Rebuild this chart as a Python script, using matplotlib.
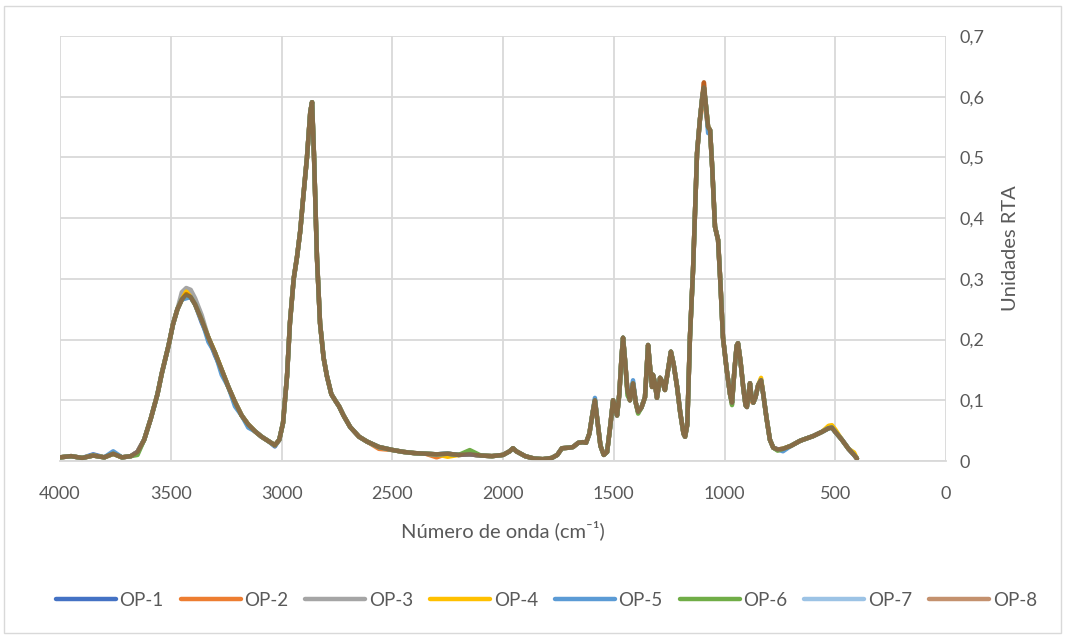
import matplotlib
matplotlib.use("Agg")
import matplotlib.pyplot as plt
from matplotlib.patches import Rectangle
from matplotlib.ticker import FuncFormatter, MultipleLocator

# FTIR spectra of samples OP-1 .. OP-8 (absorbance, arbitrary units)
wavenumber = [
    4000, 3950, 3900, 3850, 3800, 3760, 3720, 3680, 3650, 3620,
    3590, 3560, 3540, 3510, 3490, 3470, 3450, 3430, 3410, 3390,
    3360, 3330, 3300, 3270, 3240, 3210, 3180, 3150, 3120, 3090,
    3060, 3030, 3010, 2993, 2975, 2962, 2945, 2930, 2915, 2903,
    2885, 2870, 2862, 2853, 2840, 2826, 2810, 2795, 2775, 2758,
    2740, 2720, 2690, 2650, 2614, 2560, 2497, 2450, 2400, 2350,
    2300, 2250, 2200, 2150, 2100, 2050, 2000, 1970, 1955, 1940,
    1900, 1860, 1820, 1780, 1755, 1734, 1700, 1684, 1660, 1640,
    1625, 1610, 1595, 1585, 1575, 1560, 1545, 1530, 1515, 1503,
    1493, 1485, 1475, 1465, 1458, 1450, 1438, 1427, 1413, 1400,
    1390, 1375, 1359, 1350, 1345, 1335, 1327, 1323, 1315, 1305,
    1291, 1280, 1269, 1255, 1242, 1230, 1214, 1200, 1185, 1178,
    1168, 1156, 1142, 1124, 1111, 1100, 1093, 1085, 1074, 1065,
    1055, 1043, 1029, 1018, 1007, 990, 975, 966, 955, 945,
    939, 928, 915, 905, 899, 890, 885, 878, 870, 860,
    848, 835, 825, 810, 795, 780, 760, 736, 700, 660,
    646, 600, 560, 530, 515, 500, 470, 440, 415, 402,
]

absorbance = [
    0.006, 0.008, 0.005, 0.009, 0.006, 0.012, 0.006, 0.008, 0.015, 0.035,
    0.070, 0.110, 0.145, 0.190, 0.225, 0.250, 0.266, 0.273, 0.270, 0.258,
    0.232, 0.203, 0.178, 0.150, 0.122, 0.097, 0.075, 0.060, 0.049, 0.040,
    0.033, 0.026, 0.035, 0.063, 0.140, 0.227, 0.300, 0.336, 0.380, 0.430,
    0.500, 0.575, 0.591, 0.500, 0.336, 0.227, 0.170, 0.140, 0.110, 0.100,
    0.090, 0.075, 0.056, 0.040, 0.032, 0.023, 0.018, 0.015, 0.013, 0.012,
    0.011, 0.012, 0.010, 0.011, 0.009, 0.008, 0.010, 0.016, 0.021, 0.016,
    0.008, 0.004, 0.003, 0.005, 0.010, 0.021, 0.022, 0.023, 0.030, 0.031,
    0.030, 0.045, 0.080, 0.100, 0.070, 0.025, 0.010, 0.015, 0.060, 0.100,
    0.085, 0.075, 0.110, 0.170, 0.203, 0.170, 0.115, 0.100, 0.128, 0.095,
    0.081, 0.088, 0.105, 0.160, 0.191, 0.150, 0.122, 0.142, 0.130, 0.104,
    0.137, 0.130, 0.117, 0.150, 0.180, 0.160, 0.122, 0.080, 0.045, 0.040,
    0.060, 0.204, 0.315, 0.507, 0.562, 0.600, 0.615, 0.590, 0.550, 0.545,
    0.480, 0.386, 0.364, 0.290, 0.204, 0.150, 0.110, 0.096, 0.150, 0.190,
    0.194, 0.165, 0.120, 0.092, 0.089, 0.115, 0.128, 0.105, 0.096, 0.105,
    0.125, 0.133, 0.110, 0.070, 0.035, 0.022, 0.019, 0.020, 0.025, 0.033,
    0.035, 0.041, 0.048, 0.054, 0.055, 0.048, 0.035, 0.020, 0.010, 0.004,
]

# values where a sample departs from the common trace {wavenumber: absorbance}
op1_diff = {3430: 0.270, 3360: 0.228, 3300: 0.174, 3030: 0.024, 3850: 0.011}
op2_diff = {3430: 0.278, 3410: 0.275, 1093: 0.623, 1085: 0.575, 878: 0.098, 2300: 0.006, 2560: 0.020}
op3_diff = {3450: 0.278, 3430: 0.285, 3410: 0.282, 3390: 0.268, 3360: 0.240}
op4_diff = {3430: 0.279, 530: 0.058, 515: 0.059, 500: 0.052, 835: 0.137, 415: 0.014, 2250: 0.007}
op5_diff = {3430: 0.268, 3330: 0.196, 3270: 0.142, 3210: 0.090, 3150: 0.055, 3760: 0.016,
            1585: 0.104, 1413: 0.133, 1074: 0.540, 736: 0.016}
op6_diff = {3650: 0.010, 2150: 0.018, 1438: 0.108, 1390: 0.078, 966: 0.092, 760: 0.017}
op7_diff = {3430: 0.271, 3300: 0.176}
op8_diff = {1093: 0.624, 3430: 0.275}

series_names = ["OP-1", "OP-2", "OP-3", "OP-4", "OP-5", "OP-6", "OP-7", "OP-8"]
series_diffs = [op1_diff, op2_diff, op3_diff, op4_diff, op5_diff, op6_diff, op7_diff, op8_diff]
colors = ["#4472C4", "#ED7D31", "#A5A5A5", "#FFC000", "#5B9BD5", "#70AD47", "#5B9BD5", "#9E480E"]
alphas = [1, 1, 1, 1, 1, 1, 0.6, 0.6]

plt.rcParams['font.family'] = ['Lato', 'DejaVu Sans']
text_color = "#595959"
grid_color = "#D9D9D9"

fig = plt.figure(figsize=(10.65, 6.37), dpi=100)
fig.patches.append(Rectangle((0.004, 0.006), 0.992, 0.984, transform=fig.transFigure,
                             fill=False, edgecolor=grid_color, linewidth=1))
ax = fig.add_axes([60 / 1065, 1 - 461 / 637, 886 / 1065, 425 / 637])

for name, diff, col, a in zip(series_names, series_diffs, colors, alphas):
    y = [diff.get(w, v) for w, v in zip(wavenumber, absorbance)]
    ax.plot(wavenumber, y, color=col, alpha=a, linewidth=3.2, label=name,
            solid_joinstyle="round", solid_capstyle="round")

ax.set_xlim(4000, 0)
ax.set_ylim(0, 0.7)
ax.xaxis.set_major_locator(MultipleLocator(500))
ax.yaxis.set_major_locator(MultipleLocator(0.1))
ax.yaxis.set_major_formatter(FuncFormatter(lambda v, p: ("%.1f" % v).replace(".", ",") if v > 1e-9 else "0"))
ax.yaxis.tick_right()
ax.yaxis.set_label_position("right")

ax.grid(True, color=grid_color, linewidth=1.3)
ax.set_axisbelow(True)
for side in ["top", "left", "right"]:
    ax.spines[side].set_visible(False)
ax.spines["bottom"].set_color(grid_color)
ax.spines["bottom"].set_linewidth(1.3)
ax.tick_params(length=0, labelsize=13, colors=text_color)
ax.tick_params(axis="x", pad=18)
ax.tick_params(axis="y", pad=10)

ax.set_xlabel("Número de onda (cm⁻¹)", fontsize=14.5, color=text_color, labelpad=13)
ax.set_ylabel("Unidades RTA", fontsize=14.5, color=text_color, labelpad=12)

fig.legend(loc="center", bbox_to_anchor=(0.513, 0.058), ncol=8, frameon=False,
           fontsize=13.5, handlelength=3.2, handletextpad=0.2, columnspacing=0.9,
           labelcolor=text_color)

fig.savefig("out.png", dpi=100)
